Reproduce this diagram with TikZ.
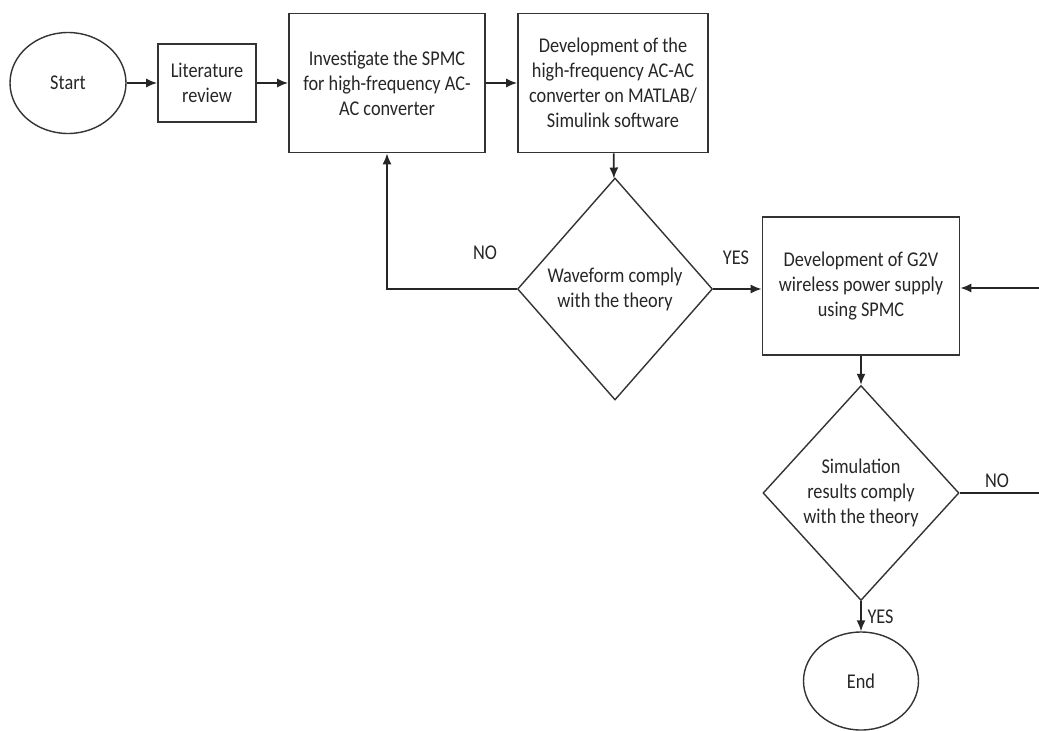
\documentclass[tikz,border=0pt]{standalone}
\usepackage{fontspec}
\setmainfont{Carlito}[FakeStretch=0.87]
\usetikzlibrary{shapes.geometric,arrows.meta}
\begin{document}
\begin{tikzpicture}[x=1pt,y=-1pt,
  txt/.style={font=\fontsize{21}{25}\selectfont, text=black!85},
  box/.style={txt, draw=black!80, line width=1.7pt, rectangle, align=center, inner sep=2pt},
  oval/.style={txt, draw=black!80, line width=1.4pt, ellipse, inner sep=0pt},
  decision/.style={txt, draw=black!80, line width=1.4pt, diamond, align=center, inner sep=0pt},
  lbl/.style={txt},
  conn/.style={draw=black!85, line width=1.7pt},
  arr/.style={conn, -{Latex[length=11pt,width=9pt]}}
]
\useasboundingbox (0,0) rectangle (1039,731);
\node[oval, minimum width=116, minimum height=101] (start) at (68,83) {Start};
\node[box, minimum width=98, minimum height=78] (lit) at (207,83) {Literature\\review};
\node[box, minimum width=196, minimum height=139] (inv) at (387,83) {Investigate the SPMC\\for high-frequency AC-\\AC converter};
\node[box, minimum width=190, minimum height=139] (dev) at (613,83) {Development of the\\high-frequency AC-AC\\converter on MATLAB/\\Simulink software};
\node[decision, minimum width=195, minimum height=222] (d1) at (615,289) {Waveform comply\\with the theory};
\node[box, minimum width=197, minimum height=138] (g2v) at (861,286) {Development of G2V\\wireless power supply\\using SPMC};
\node[decision, minimum width=196, minimum height=215] (d2) at (861,493) {Simulation\\results comply\\with the theory};
\node[oval, minimum width=115, minimum height=98] (end) at (861,681) {End};

\coordinate (r1) at (1039,288);
\coordinate (r2) at (1039,493);

\draw[arr] (start.east |- lit.west) -- (lit.west);
\draw[arr] (lit) -- (inv);
\draw[arr] (inv) -- (dev);
\draw[arr] (dev) -- (d1);
\draw[arr] (d1.west) -| (inv.south);
\draw[arr] (d1.east) -- (g2v.west |- d1.east);
\draw[arr] (g2v) -- (d2);
\draw[conn] (d2.east) -- (r2);
\draw[arr] (r1) -- (g2v.east |- r1);
\draw[arr] (d2) -- (end);

\node[lbl] (no1) at (485,253) {NO};
\node[lbl] (yes1) at (736,258) {YES};
\node[lbl] (no2) at (997,481) {NO};
\node[lbl, anchor=west] (yes2) at (864,617) {YES};
\end{tikzpicture}
\end{document}
